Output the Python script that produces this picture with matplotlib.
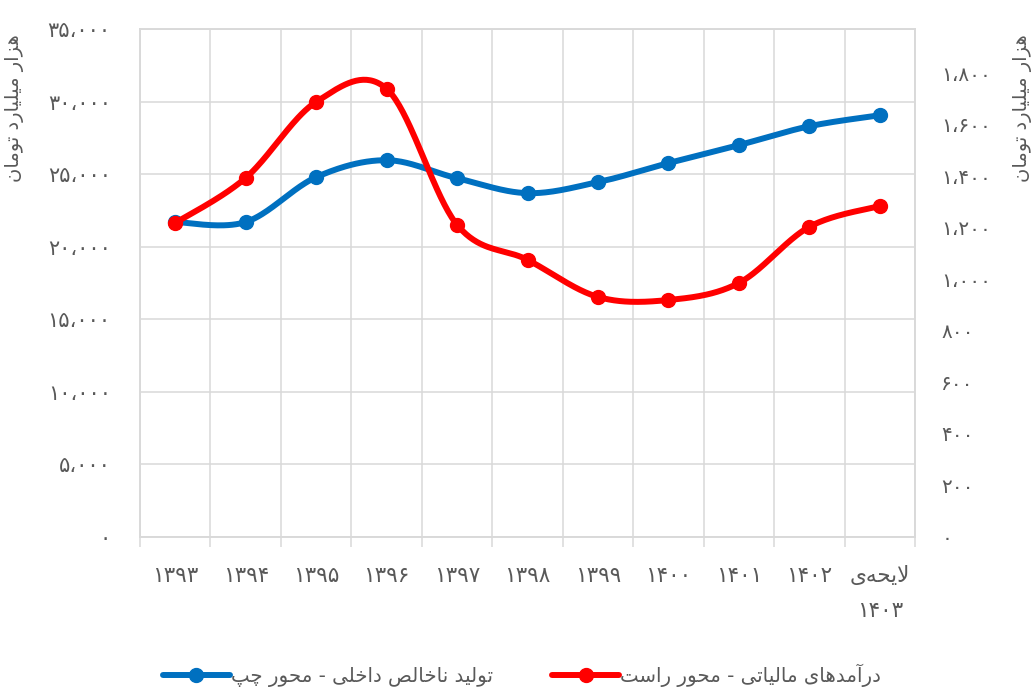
import numpy as np
import matplotlib
matplotlib.use("Agg")
import matplotlib.pyplot as plt
from matplotlib.lines import Line2D
from matplotlib.ticker import FixedLocator, FuncFormatter
from matplotlib import font_manager
from matplotlib.ft2font import FT2Font

# ---------------- data ----------------
years = ["۱۳۹۳", "۱۳۹۴", "۱۳۹۵", "۱۳۹۶", "۱۳۹۷", "۱۳۹۸", "۱۳۹۹", "۱۴۰۰", "۱۴۰۱", "۱۴۰۲", "لایحه‌ی\n۱۴۰۳"]
gdp = [21700, 21700, 24790, 25960, 24720, 23690, 24450, 25760, 27000, 28300, 29060]   # left axis
tax = [1219, 1394, 1689, 1740, 1212, 1076, 932, 920, 986, 1204, 1285]                # right axis
gdp_label = "تولید ناخالص داخلی - محور چپ"
tax_label = "درآمدهای مالیاتی - محور راست"
axis_title = "هزار میلیارد تومان"
left_ticks = [0, 5000, 10000, 15000, 20000, 25000, 30000, 35000]
right_ticks = [0, 200, 400, 600, 800, 1000, 1200, 1400, 1600, 1800]

# ---------------- Arabic-script shaping (matplotlib has no shaper) ----------------
FONT = "DejaVu Sans"
_font_path = font_manager.findfont(font_manager.FontProperties(family=FONT))
_cmap = FT2Font(_font_path).get_charmap()

FORMS = {  # isolated, final, initial, medial
    'ا': (0xFE8D, 0xFE8E, None, None),
    'آ': (0xFE81, 0xFE82, None, None),
    'ب': (0xFE8F, 0xFE90, 0xFE91, 0xFE92),
    'پ': (0xFB56, 0xFB57, 0xFB58, 0xFB59),
    'ت': (0xFE95, 0xFE96, 0xFE97, 0xFE98),
    'ح': (0xFEA1, 0xFEA2, 0xFEA3, 0xFEA4),
    'خ': (0xFEA5, 0xFEA6, 0xFEA7, 0xFEA8),
    'چ': (0xFB7A, 0xFB7B, 0xFB7C, 0xFB7D),
    'د': (0xFEA9, 0xFEAA, None, None),
    'ر': (0xFEAD, 0xFEAE, None, None),
    'ز': (0xFEAF, 0xFEB0, None, None),
    'س': (0xFEB1, 0xFEB2, 0xFEB3, 0xFEB4),
    'ص': (0xFEB9, 0xFEBA, 0xFEBB, 0xFEBC),
    'ل': (0xFEDD, 0xFEDE, 0xFEDF, 0xFEE0),
    'م': (0xFEE1, 0xFEE2, 0xFEE3, 0xFEE4),
    'ن': (0xFEE5, 0xFEE6, 0xFEE7, 0xFEE8),
    'ه': (0xFEE9, 0xFEEA, 0xFEEB, 0xFEEC),
    'و': (0xFEED, 0xFEEE, None, None),
    'ی': (0xFBFC, 0xFBFD, 0xFBFE, 0xFBFF),
}
FALLBACK = {0xFBFC: 0xFEEF, 0xFBFD: 0xFEF0, 0xFBFE: 0xFEF3, 0xFBFF: 0xFEF4}


def _g(cp):
    if cp not in _cmap and cp in FALLBACK:
        cp = FALLBACK[cp]
    return chr(cp)


def shape(s):
    chars = list(s)
    n = len(chars)
    out = []

    def dual(c):
        return c in FORMS and FORMS[c][2] is not None

    i = 0
    while i < n:
        c = chars[i]
        if c not in FORMS:
            if c != '\u200c':
                out.append(c)
            i += 1
            continue
        pc = i > 0 and dual(chars[i - 1])
        if c == 'ل' and i + 1 < n and chars[i + 1] in 'اآ':
            lig = (0xFEFB, 0xFEFC) if chars[i + 1] == 'ا' else (0xFEF5, 0xFEF6)
            out.append(_g(lig[1] if pc else lig[0]))
            i += 2
            continue
        nc = dual(c) and i + 1 < n and chars[i + 1] in FORMS
        iso, fin, ini, med = FORMS[c]
        g = med if (pc and nc) else fin if pc else ini if nc else iso
        out.append(_g(g))
        i += 1
    return ''.join(reversed(out))


def shape_lines(s):
    return '\n'.join(shape(l) if any(ch in FORMS for ch in l) else l for l in s.split('\n'))


FA_DIGITS = str.maketrans("0123456789", "۰۱۲۳۴۵۶۷۸۹")


def fa_num(v, pos=None):
    s = f"{int(round(v)):,}".replace(",", "،")
    return s.translate(FA_DIGITS)


def smooth(xs, ys, n=40):
    """Excel-like smoothed line: cubic Bezier with Catmull-Rom control points."""
    P = np.column_stack([xs, ys]).astype(float)
    m = len(P)
    out = [P[0:1]]
    t = np.linspace(0, 1, n)[1:, None]
    for k in range(m - 1):
        p0 = P[k - 1] if k > 0 else P[k]
        p1, p2 = P[k], P[k + 1]
        p3 = P[k + 2] if k + 2 < m else P[k + 1]
        c1 = p1 + (p2 - p0) / 6
        c2 = p2 - (p3 - p1) / 6
        seg = ((1 - t) ** 3) * p1 + 3 * ((1 - t) ** 2) * t * c1 + 3 * (1 - t) * t ** 2 * c2 + t ** 3 * p2
        out.append(seg)
    Q = np.vstack(out)
    return Q[:, 0], Q[:, 1]


# ---------------- figure ----------------
plt.rcParams['font.family'] = [FONT]
TXT = "#595959"
GRID = "#d9d9d9"
BLUE = "#0070C0"
RED = "#FF0000"

fig = plt.figure(figsize=(10.36, 6.91), dpi=100)
ax = fig.add_axes([140 / 1036, 1 - 537 / 691, 775 / 1036, 508 / 691])
ax2 = ax.twinx()

x = np.arange(len(years))
ax.set_xlim(-0.5, len(years) - 0.5)
ax.set_ylim(0, 35000)
ax2.set_ylim(0, 1972)

for a in (ax, ax2):
    for sp in a.spines.values():
        sp.set_color(GRID)
        sp.set_linewidth(1.1)

ax.xaxis.set_major_locator(FixedLocator(np.arange(-0.5, len(years), 1.0)))
ax.xaxis.set_minor_locator(FixedLocator(x))
ax.xaxis.set_major_formatter(FuncFormatter(lambda v, p: ""))
ax.set_xticklabels([shape_lines(y) for y in years], minor=True)
ax.tick_params(axis='x', which='major', length=7, width=1.1, color=GRID)
ax.tick_params(axis='x', which='minor', length=0, pad=21, labelsize=15.5, labelcolor=TXT)
for lbl in ax.get_xticklabels(minor=True):
    lbl.set_linespacing(1.95)
    lbl.set_verticalalignment('top')

ax.yaxis.set_major_locator(FixedLocator(left_ticks))
ax.yaxis.set_major_formatter(FuncFormatter(fa_num))
ax.tick_params(axis='y', length=0, pad=21, labelsize=15, labelcolor=TXT)
ax2.yaxis.set_major_locator(FixedLocator(right_ticks))
ax2.yaxis.set_major_formatter(FuncFormatter(fa_num))
ax2.tick_params(axis='y', length=0, pad=19, labelsize=14.5, labelcolor=TXT)

ax.grid(True, which='major', color=GRID, linewidth=1.1)
ax.set_axisbelow(True)

sx, sy = smooth(x, gdp)
ax.plot(sx, sy, color=BLUE, lw=4.3, solid_capstyle='round', zorder=3)
ax.plot(x, gdp, 'o', color=BLUE, ms=10, zorder=4)

sx2, sy2 = smooth(x, tax)
ax2.plot(sx2, sy2, color=RED, lw=4.3, solid_capstyle='round', zorder=3)
ax2.plot(x, tax, 'o', color=RED, ms=10, zorder=4)

fig.text(15 / 1036, 1 - 108 / 691, shape(axis_title), rotation=90, ha='center', va='center',
         fontsize=14, color=TXT)
fig.text(1022 / 1036, 1 - 108 / 691, shape(axis_title), rotation=90, ha='center', va='center',
         fontsize=14, color=TXT)

handles = [Line2D([], [], color=BLUE, lw=4.3, marker='o', ms=10, solid_capstyle='round'),
           Line2D([], [], color=RED, lw=4.3, marker='o', ms=10, solid_capstyle='round')]
leg = fig.legend(handles, [shape(gdp_label), shape(tax_label)], ncol=2, loc='center',
                 bbox_to_anchor=(522 / 1036, 1 - 675 / 691), frameon=False, fontsize=14.2,
                 handlelength=3.4, handletextpad=0.05, columnspacing=3.0, numpoints=1)
for t in leg.get_texts():
    t.set_color(TXT)

fig.savefig("out.png", dpi=100)
